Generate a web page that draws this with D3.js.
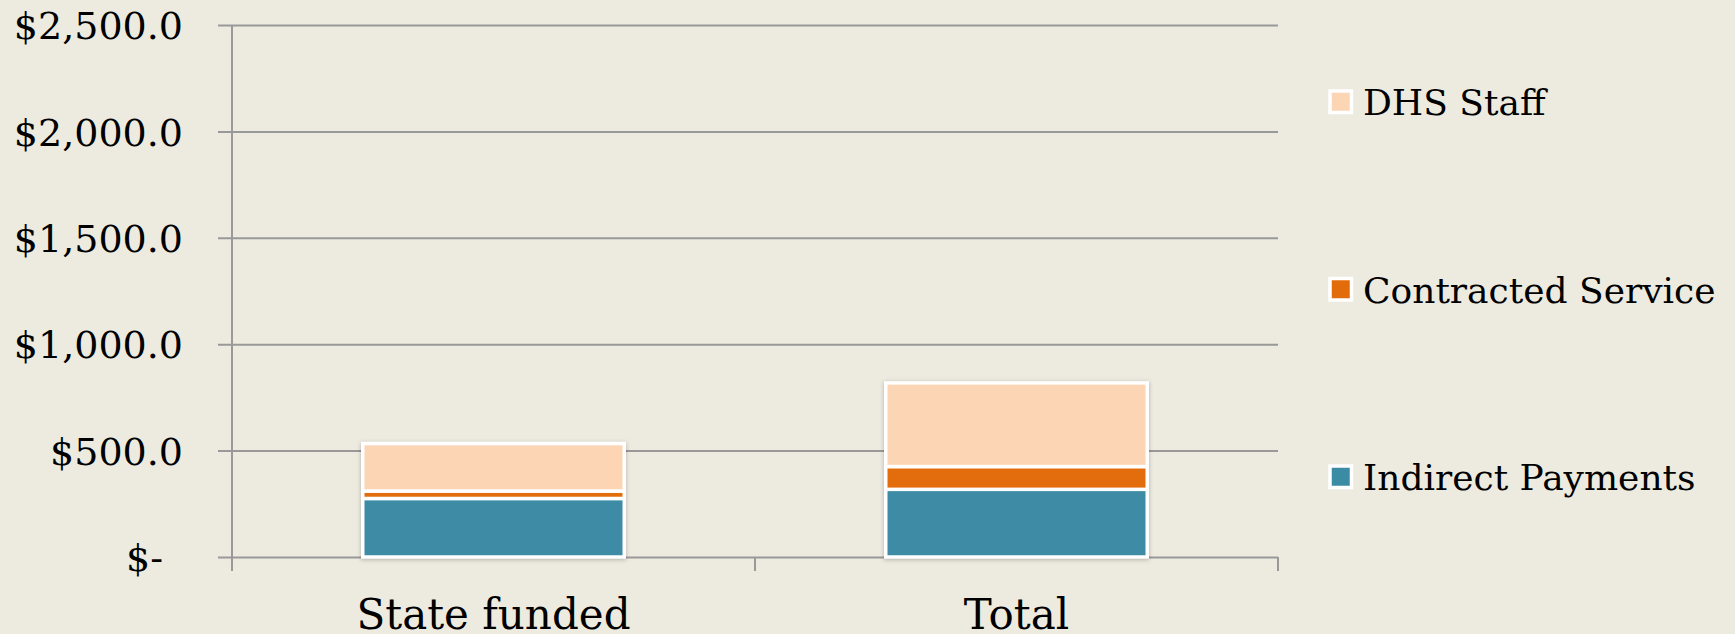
<!DOCTYPE html>
<html>
<head>
<meta charset="utf-8">
<script src="https://cdn.jsdelivr.net/npm/d3@7"></script>
<style>
  html, body { margin: 0; padding: 0; background: #EDEBE0; }
  svg { display: block; }
  text { font-family: "DejaVu Serif", "Liberation Serif", serif; fill: #000; }
</style>
</head>
<body>
<div id="chart"></div>
<script>
// values (dollars, millions)
var categories = ["State funded", "Total"];
var seriesNames = ["Indirect Payments", "Contracted Service", "DHS Staff"];
var indirectPayments = [275, 318];
var contractedService = [35, 107];
var dhsStaff = [223, 393];
var yTicks = [0, 500, 1000, 1500, 2000, 2500];

var colors = ["#3C8BA4", "#E36C0A", "#FCD5B5"];

var W = 1735, H = 634;
var plotLeft = 232, plotRight = 1278, plotTop = 25, plotBottom = 557;

var svg = d3.select("#chart").append("svg")
    .attr("width", W)
    .attr("height", H);

var defs = svg.append("defs");
var shadow = defs.append("filter").attr("id", "shadow")
    .attr("x", "-5%").attr("y", "-5%").attr("width", "110%").attr("height", "110%");
shadow.append("feDropShadow")
    .attr("dx", 0).attr("dy", 1).attr("stdDeviation", 2)
    .attr("flood-color", "#000").attr("flood-opacity", 0.25);

var x = d3.scaleBand().domain(categories).range([plotLeft, plotRight]);
var y = d3.scaleLinear().domain([0, 2500]).range([plotBottom, plotTop]);

var fmt = d3.format("$,.1f");

// gridlines + y labels
var yAxis = d3.axisLeft(y)
    .tickValues(yTicks)
    .tickSize(plotRight - 218)
    .tickPadding(35)
    .tickFormat(function(d) { return d === 0 ? "$-" : fmt(d); });

var gy = svg.append("g")
    .attr("transform", "translate(" + plotRight + ",0)")
    .call(yAxis);
gy.select(".domain").remove();
gy.selectAll(".tick line").attr("stroke", "#999").attr("stroke-width", 2);
gy.selectAll(".tick text")
    .style("font-size", "38px")
    .attr("dy", "0.36em")
    .attr("dx", function(d) { return d === 0 ? -20 : 0; });

// vertical axis line
svg.append("line")
    .attr("x1", plotLeft).attr("x2", plotLeft)
    .attr("y1", plotTop).attr("y2", plotBottom + 14)
    .attr("stroke", "#999").attr("stroke-width", 2);

// category boundary ticks
var bounds = categories.map(function(c) { return x(c); }).concat([x(categories[categories.length - 1]) + x.bandwidth()]);
svg.selectAll(".ctick").data(bounds).enter().append("line")
    .attr("class", "ctick")
    .attr("x1", function(d) { return d; }).attr("x2", function(d) { return d; })
    .attr("y1", plotBottom).attr("y2", plotBottom + 14)
    .attr("stroke", "#999").attr("stroke-width", 2);

// category labels
var xAxis = d3.axisBottom(x).tickSize(0).tickPadding(0);
var gx = svg.append("g").attr("transform", "translate(0," + plotBottom + ")").call(xAxis);
gx.select(".domain").remove();
gx.selectAll(".tick text")
    .style("font-size", "42px")
    .attr("dy", null)
    .attr("y", 72);

// stacked bars
var rows = categories.map(function(c, i) {
    return { cat: c, "Indirect Payments": indirectPayments[i], "Contracted Service": contractedService[i], "DHS Staff": dhsStaff[i] };
});
var stack = d3.stack().keys(seriesNames)(rows);

var barW = x.bandwidth() * 0.5;
var bars = svg.append("g").attr("filter", "url(#shadow)");
bars.selectAll("g").data(stack).enter().append("g")
    .attr("fill", function(d, i) { return colors[i]; })
    .selectAll("rect").data(function(d) { return d; }).enter().append("rect")
    .attr("x", function(d) { return x(d.data.cat) + (x.bandwidth() - barW) / 2; })
    .attr("width", barW)
    .attr("y", function(d) { return y(d[1]); })
    .attr("height", function(d) { return y(d[0]) - y(d[1]); })
    .attr("stroke", "#fff")
    .attr("stroke-width", 3.5);

// legend (top to bottom: DHS Staff, Contracted Service, Indirect Payments)
var legendItems = seriesNames.slice().reverse();
var legend = svg.append("g");
legendItems.forEach(function(name, i) {
    var by = 115 + i * 187.5;
    var ci = seriesNames.indexOf(name);
    legend.append("rect")
        .attr("x", 1330).attr("y", by - 24)
        .attr("width", 21.5).attr("height", 21.5)
        .attr("fill", colors[ci])
        .attr("stroke", "#fff").attr("stroke-width", 3.5);
    legend.append("text")
        .attr("x", 1363).attr("y", by)
        .style("font-size", "36px")
        .text(name);
});
</script>
</body>
</html>
